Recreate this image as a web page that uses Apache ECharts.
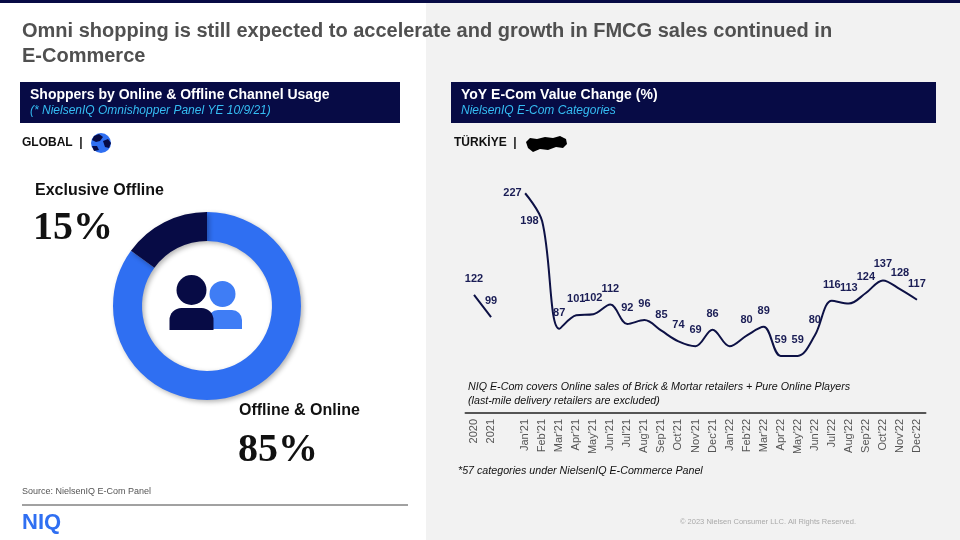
<!DOCTYPE html>
<html>
<head>
<meta charset="utf-8">
<script src="https://cdn.jsdelivr.net/npm/echarts@6/dist/echarts.min.js"></script>
<style>
html,body{margin:0;padding:0;background:#fff;}
#c{width:960px;height:540px;}
</style>
</head>
<body>
<div id="c"></div>
<script>
// ---- data ----
var shareNames = ['Offline & Online', 'Exclusive Offline'];
var shareValues = [85, 15];
var categories = ['2020', '2021', '', "Jan'21", "Feb'21", "Mar'21", "Apr'21", "May'21", "Jun'21", "Jul'21", "Aug'21", "Sep'21", "Oct'21", "Nov'21", "Dec'21",
  "Jan'22", "Feb'22", "Mar'22", "Apr'22", "May'22", "Jun'22", "Jul'22", "Aug'22", "Sep'22", "Oct'22", "Nov'22", "Dec'22"];
var yoyValues = [122, 99, null, 227, 198, 87, 101, 102, 112, 92, 96, 85, 74, 69, 86,
  69, 80, 89, 59, 59, 80, 116, 113, 124, 137, 128, 117];
var unlabeled = ["Jan'22"];
var leftLabeled = ["Jan'21", "Feb'21"];

var NAVY = '#070b45', BLUE = '#2f6ff2', LIGHTBLUE = '#3f7df5', CYAN = '#35bdf3';
var SANS = '"Liberation Sans", Arial, sans-serif';
var SERIF = '"Liberation Serif", "DejaVu Serif", serif';

var chart = echarts.init(document.getElementById('c'));

var lineData = yoyValues.map(function (v, i) {
  var item = { value: v };
  if (unlabeled.indexOf(categories[i]) >= 0) item.label = { show: false };
  else if (leftLabeled.indexOf(categories[i]) >= 0) item.label = { position: 'left', distance: 3 };
  return item;
});

function txt(x, y, s, font, fill, extra) {
  var st = { x: x, y: y, text: s, font: font, fill: fill, textVerticalAlign: 'top' };
  if (extra) for (var k in extra) st[k] = extra[k];
  return { type: 'text', style: st, z: 20 };
}

var graphics = [
  { type: 'rect', shape: { x: 426, y: 0, width: 534, height: 540 }, style: { fill: '#f2f2f2' }, z: -10 },
  { type: 'rect', shape: { x: 0, y: 0, width: 960, height: 3 }, style: { fill: NAVY }, z: -5 },
  txt(22, 19, 'Omni shopping is still expected to accelerate and growth in FMCG sales continued in\nE-Commerce', 'bold 20px ' + SANS, '#505050', { lineHeight: 25 }),
  // left header
  { type: 'rect', shape: { x: 20, y: 82, width: 380, height: 41 }, style: { fill: NAVY } },
  txt(30, 88, 'Shoppers by Online & Offline Channel Usage', 'bold 14px ' + SANS, '#fff'),
  txt(30, 105, '(* NielsenIQ Omnishopper Panel YE 10/9/21)', 'italic 12px ' + SANS, CYAN),
  // right header
  { type: 'rect', shape: { x: 451, y: 82, width: 485, height: 41 }, style: { fill: NAVY } },
  txt(461, 88, 'YoY E-Com Value Change (%)', 'bold 14px ' + SANS, '#fff'),
  txt(461, 105, 'NielsenIQ E-Com Categories', 'italic 12px ' + SANS, CYAN),
  // region labels
  txt(22, 137, 'GLOBAL  |', 'bold 12px ' + SANS, '#111'),
  { type: 'circle', shape: { cx: 101, cy: 143, r: 10 }, style: { fill: BLUE } },
  { type: 'polygon', shape: { points: [[94, 136], [99, 134], [103, 137], [100, 141], [96, 142], [92, 140]] }, style: { fill: NAVY } },
  { type: 'polygon', shape: { points: [[103, 141], [108, 139], [111, 143], [109, 148], [105, 147]] }, style: { fill: NAVY } },
  { type: 'polygon', shape: { points: [[92, 146], [97, 146], [99, 150], [94, 151]] }, style: { fill: NAVY } },
  txt(454, 137, 'TÜRKİYE  |', 'bold 12px ' + SANS, '#111'),
  { type: 'polygon', shape: { points: [[526, 142], [530, 138], [537, 139], [545, 137], [553, 138], [560, 136], [566, 139], [567, 144], [563, 148], [556, 147], [548, 150], [540, 149], [533, 152], [528, 148]] }, style: { fill: '#000' } },
  // donut labels
  txt(35, 183, shareNames[1], 'bold 16px ' + SANS, '#111'),
  txt(33, 209, shareValues[1] + '%', 'bold 40px ' + SERIF, '#111'),
  txt(239, 403, shareNames[0], 'bold 16px ' + SANS, '#111'),
  txt(238, 431, shareValues[0] + '%', 'bold 40px ' + SERIF, '#111'),
  // people icon
  { type: 'circle', shape: { cx: 222.5, cy: 294, r: 13 }, style: { fill: LIGHTBLUE }, z: 10 },
  { type: 'rect', shape: { x: 208, y: 310, width: 34, height: 19, r: [10, 10, 0, 0] }, style: { fill: LIGHTBLUE }, z: 10 },
  { type: 'circle', shape: { cx: 191.5, cy: 290, r: 15 }, style: { fill: NAVY }, z: 11 },
  { type: 'rect', shape: { x: 169.5, y: 308, width: 44, height: 22, r: [12, 12, 0, 0] }, style: { fill: NAVY }, z: 11 },
  // notes
  txt(468, 380, 'NIQ E-Com covers Online sales of Brick & Mortar retailers + Pure Online Players\n(last-mile delivery retailers are excluded)', 'italic 10.7px ' + SANS, '#111', { lineHeight: 14 }),
  txt(458, 466, '*57 categories under NielsenIQ E-Commerce Panel', 'italic 10.7px ' + SANS, '#111'),
  // footer
  txt(22, 487, 'Source: NielsenIQ E-Com Panel', '9px ' + SANS, '#555'),
  { type: 'line', shape: { x1: 22, y1: 505, x2: 408, y2: 505 }, style: { stroke: '#444', lineWidth: 1 } },
  txt(22, 512, 'NIQ', 'bold 22px ' + SANS, BLUE),
  txt(680, 518, '© 2023 Nielsen Consumer LLC. All Rights Reserved.', '7.5px ' + SANS, '#aaa')
];

var option = {
  animation: false,
  backgroundColor: '#fff',
  graphic: { elements: graphics },
  grid: { left: 465.5, width: 460, top: 171, height: 242 },
  xAxis: {
    type: 'category',
    data: categories,
    boundaryGap: true,
    axisLine: { show: true, lineStyle: { color: '#555', width: 2 } },
    axisTick: { show: false },
    axisLabel: { rotate: 90, interval: 0, color: '#555', fontFamily: SANS, fontSize: 11, margin: 6 },
    splitLine: { show: false }
  },
  yAxis: { type: 'value', min: 0, max: 250, show: false, splitLine: { show: false } },
  series: [
    {
      type: 'pie',
      center: [207, 306],
      radius: [65, 94],
      startAngle: 90,
      clockwise: true,
      label: { show: false },
      labelLine: { show: false },
      emphasis: { disabled: true },
      itemStyle: { shadowBlur: 5, shadowColor: 'rgba(0,0,0,0.3)', shadowOffsetX: 2, shadowOffsetY: 2 },
      data: [
        { name: shareNames[0], value: shareValues[0], itemStyle: { color: BLUE } },
        { name: shareNames[1], value: shareValues[1], itemStyle: { color: NAVY } }
      ]
    },
    {
      type: 'line',
      data: lineData,
      smooth: 0.35,
      connectNulls: false,
      showSymbol: true,
      symbol: 'circle',
      symbolSize: 1,
      itemStyle: { color: 'rgba(0,0,0,0)' },
      lineStyle: { color: '#0d1145', width: 2 },
      label: { show: true, position: 'top', distance: 10, color: '#1a1d55', fontWeight: 'bold', fontSize: 11, fontFamily: SANS },
      labelLayout: { hideOverlap: false },
      emphasis: { disabled: true }
    }
  ]
};
chart.setOption(option);
</script>
</body>
</html>
